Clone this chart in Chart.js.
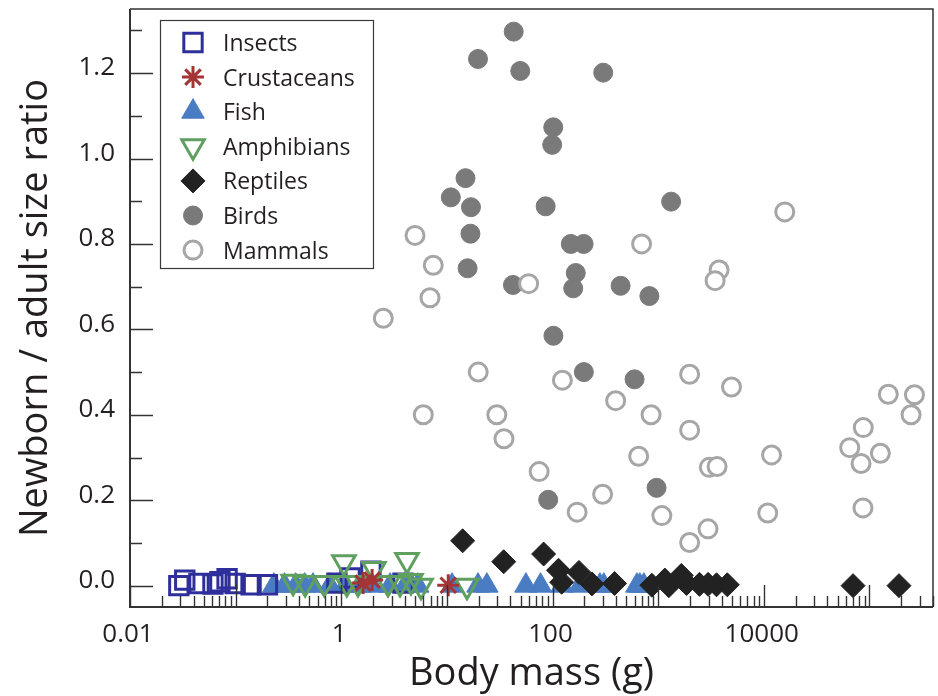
<!DOCTYPE html>
<html>
<head>
<meta charset="utf-8">
<script src="https://cdn.jsdelivr.net/npm/chart.js@4"></script>
<style>
  html, body { margin: 0; padding: 0; background: #fff; }
</style>
</head>
<body>
<canvas id="sizeChart" width="938" height="696"></canvas>
<script>
// [body mass (g), newborn / adult size ratio]
const insects = [[0.029, 0.0], [0.033, 0.013], [0.045, 0.005], [0.061, 0.004], [0.071, 0.009],
  [0.083, 0.016], [0.099, 0.005], [0.14, 0.002], [0.20, 0.002], [0.91, 0.006], [1.21, 0.018],
  [1.91, 0.034], [3.84, 0.006]];
const crustaceans = [[1.61, 0.006], [1.96, 0.013], [10.3, 0.001]];
const fish = [[0.23, 0.0], [0.29, 0.0], [0.37, 0.0], [0.45, 0.0], [0.54, 0.0], [0.78, 0.0],
  [1.09, 0.0], [1.51, 0.0], [1.96, 0.0], [2.9, 0.0], [4.0, 0.0], [5.3, 0.0], [11.2, 0.0],
  [19.7, 0.0], [23.9, 0.0], [56, 0.0], [77, 0.0], [123, 0.0], [182, 0.0], [281, 0.0],
  [306, 0.0], [629, 0.0], [671, 0.0], [732, 0.0]];
const amphibians = [[0.35, 0.009], [0.455, 0.006], [0.69, 0.006], [1.06, 0.055], [1.13, 0.006],
  [1.44, 0.006], [2.04, 0.039], [2.77, 0.006], [3.6, 0.006], [4.19, 0.06], [4.57, 0.011],
  [5.69, 0.0], [15.5, 0.0]];
const reptiles = [[14.1, 0.105], [34.5, 0.056], [82.4, 0.074], [114, 0.036], [122, 0.008],
  [178, 0.031], [236, 0.004], [387, 0.005], [872, 0.001], [1157, 0.013], [1262, 0.0],
  [1657, 0.024], [1857, 0.005], [2464, 0.003], [2972, 0.003], [3570, 0.002], [4517, 0.002],
  [70000, 0.0], [190500, 0.0]];
const birds = [[42.9, 1.297], [19.7, 1.233], [49.5, 1.205], [302, 1.201], [101.6, 1.073],
  [99.3, 1.032], [15.0, 0.954], [10.9, 0.909], [16.9, 0.886], [86.1, 0.888], [1327, 0.899],
  [16.7, 0.824], [149, 0.8], [197, 0.8], [166, 0.732], [15.7, 0.743], [42.2, 0.704],
  [157, 0.696], [441, 0.702], [826, 0.678], [102, 0.585], [198, 0.5], [598, 0.483],
  [91, 0.201], [966, 0.229]];
const mammals = [[4.99, 0.82], [7.43, 0.75], [6.92, 0.674], [2.5, 0.626], [59.4, 0.707],
  [697, 0.8], [19.8, 0.5], [124, 0.481], [5.98, 0.4], [29.7, 0.4], [34.7, 0.344],
  [74.7, 0.267], [171, 0.172], [298, 0.214], [396, 0.433], [654, 0.303], [857, 0.4],
  [1084, 0.164], [15800, 0.875], [3776, 0.739], [3460, 0.714], [1986, 0.495], [4946, 0.465],
  [1986, 0.364], [3050, 0.277], [3614, 0.279], [11850, 0.306], [2965, 0.133], [1986, 0.101],
  [10900, 0.17], [151000, 0.448], [267000, 0.447], [248000, 0.4], [87500, 0.37],
  [65100, 0.323], [127000, 0.31], [83300, 0.286], [86900, 0.182]];

const xTicks = [0.01, 1, 100, 10000];
const xTickLabels = ['0.01', '1', '100', '10000'];
const yTicks = [0, 0.2, 0.4, 0.6, 0.8, 1.0, 1.2];
const yTickLabels = ['0.0', '0.2', '0.4', '0.6', '0.8', '1.0', '1.2'];

const FONT = '"Open Sans", "DejaVu Sans", sans-serif';
const INK = '#231f20';

function toPoints(pairs) {
  return pairs.map(([m, r]) => ({ x: m, y: r }));
}

// order: lower numbers are painted last (on top)
const datasets = [
  { label: 'Insects', data: toPoints(insects), pointStyle: 'rect', pointRadius: 13,
    pointBorderWidth: 3, pointBorderColor: '#2f2f9b', pointBackgroundColor: 'rgba(0,0,0,0)', order: 6 },
  { label: 'Crustaceans', data: toPoints(crustaceans), pointStyle: 'star', pointRadius: 11,
    pointBorderWidth: 3, pointBorderColor: '#a53434', pointBackgroundColor: '#a53434', order: 4 },
  { label: 'Fish', data: toPoints(fish), pointStyle: 'triangle', pointRadius: 13,
    pointBorderWidth: 1, pointBorderColor: '#4a7cc3', pointBackgroundColor: '#4a7cc3', order: 7 },
  { label: 'Amphibians', data: toPoints(amphibians), pointStyle: 'triangle', pointRotation: 180,
    pointRadius: 13, pointBorderWidth: 3, pointBorderColor: '#5f9f5f',
    pointBackgroundColor: 'rgba(0,0,0,0)', order: 5 },
  { label: 'Reptiles', data: toPoints(reptiles), pointStyle: 'rectRot', pointRadius: 12,
    pointBorderWidth: 1, pointBorderColor: '#222222', pointBackgroundColor: '#222222', order: 3 },
  { label: 'Birds', data: toPoints(birds), pointStyle: 'circle', pointRadius: 9.5,
    pointBorderWidth: 1, pointBorderColor: '#7a7a7a', pointBackgroundColor: '#7a7a7a', order: 2 },
  { label: 'Mammals', data: toPoints(mammals), pointStyle: 'circle', pointRadius: 9,
    pointBorderWidth: 3, pointBorderColor: '#a6a6a6', pointBackgroundColor: '#ffffff', order: 1 }
];
datasets.forEach(ds => { ds.pointHoverRadius = ds.pointRadius; ds.showLine = false; });

// axis frame, inward tick marks and the boxed legend
const frameTicksLegend = {
  id: 'frameTicksLegend',
  afterDatasetsDraw(chart) {
    const { ctx, chartArea: a, scales: { x, y } } = chart;
    ctx.save();
    ctx.strokeStyle = '#333';

    ctx.lineWidth = 1.4;
    ctx.beginPath();
    for (let i = 0; i <= 13; i++) {
      const py = Math.round(y.getPixelForValue(i / 10)) + 0.5;
      const len = i % 2 === 0 ? 23 : 12;
      ctx.moveTo(a.left, py);
      ctx.lineTo(a.left + len, py);
    }
    for (let d = -2; d <= 5; d++) {
      for (let m = 1; m <= 9; m++) {
        const v = m * Math.pow(10, d);
        if (v > x.max) break;
        const px = Math.round(x.getPixelForValue(v)) + 0.5;
        const len = m === 1 ? 22 : 11;
        ctx.moveTo(px, a.bottom);
        ctx.lineTo(px, a.bottom - len);
      }
    }
    ctx.stroke();

    ctx.lineWidth = 1.5;
    ctx.beginPath();
    ctx.moveTo(a.left, a.top);
    ctx.lineTo(a.right, a.top);
    ctx.lineTo(a.right, a.bottom);
    ctx.stroke();
    ctx.lineWidth = 2;
    ctx.beginPath();
    ctx.moveTo(a.left, a.top);
    ctx.lineTo(a.left, a.bottom);
    ctx.lineTo(a.right, a.bottom);
    ctx.stroke();

    // legend
    ctx.lineWidth = 1.2;
    ctx.strokeStyle = '#3a3a3a';
    ctx.strokeRect(160.5, 20.5, 213, 248);
    ctx.font = '23px ' + FONT;
    ctx.fillStyle = INK;
    ctx.textAlign = 'left';
    ctx.textBaseline = 'alphabetic';
    chart.data.datasets.forEach((ds, i) => {
      const cy = 42.5 + i * 34.6;
      ctx.save();
      ctx.fillStyle = ds.pointBackgroundColor;
      ctx.strokeStyle = ds.pointBorderColor;
      ctx.lineWidth = ds.pointBorderWidth;
      Chart.helpers.drawPoint(ctx, {
        pointStyle: ds.pointStyle,
        radius: ds.pointRadius,
        rotation: ds.pointRotation || 0,
        borderWidth: ds.pointBorderWidth
      }, 193, cy);
      ctx.restore();
      ctx.fillText(ds.label, 223, cy + 8.5);
    });
    ctx.restore();
  }
};

new Chart(document.getElementById('sizeChart'), {
  type: 'scatter',
  data: { datasets },
  plugins: [frameTicksLegend],
  options: {
    responsive: false,
    animation: false,
    layout: { autoPadding: false, padding: { top: 9, right: 5, left: 0, bottom: 0 } },
    plugins: { legend: { display: false }, tooltip: { enabled: false } },
    scales: {
      x: {
        type: 'logarithmic',
        position: 'bottom',
        min: 0.01,
        max: 400000,
        grid: { display: false, drawTicks: false },
        border: { display: false },
        afterBuildTicks: s => { s.ticks = xTicks.map(v => ({ value: v })); },
        afterFit: s => { s.height = 89; s.paddingLeft = 0; s.paddingRight = 0; },
        ticks: {
          autoSkip: false,
          maxRotation: 0,
          padding: 12,
          labelOffset: -2,
          color: INK,
          font: { family: FONT, size: 26 },
          callback: (v, i) => xTickLabels[i]
        },
        title: {
          display: true,
          text: 'Body mass (g)',
          color: INK,
          font: { family: FONT, size: 38, lineHeight: 1 },
          padding: { top: 0, bottom: 3 }
        }
      },
      y: {
        type: 'linear',
        min: -0.05,
        max: 1.35,
        grid: { display: false, drawTicks: false },
        border: { display: false },
        afterBuildTicks: s => { s.ticks = yTicks.map(v => ({ value: v })); },
        afterFit: s => { s.width = 130; s.paddingTop = 0; s.paddingBottom = 0; },
        ticks: {
          padding: 15,
          labelOffset: -5,
          color: INK,
          font: { family: FONT, size: 26 },
          callback: (v, i) => yTickLabels[i]
        },
        title: {
          display: true,
          text: 'Newborn / adult size ratio',
          color: INK,
          font: { family: FONT, size: 38, lineHeight: 1 },
          padding: { top: 17, bottom: 0 }
        }
      }
    }
  }
});
</script>
</body>
</html>
